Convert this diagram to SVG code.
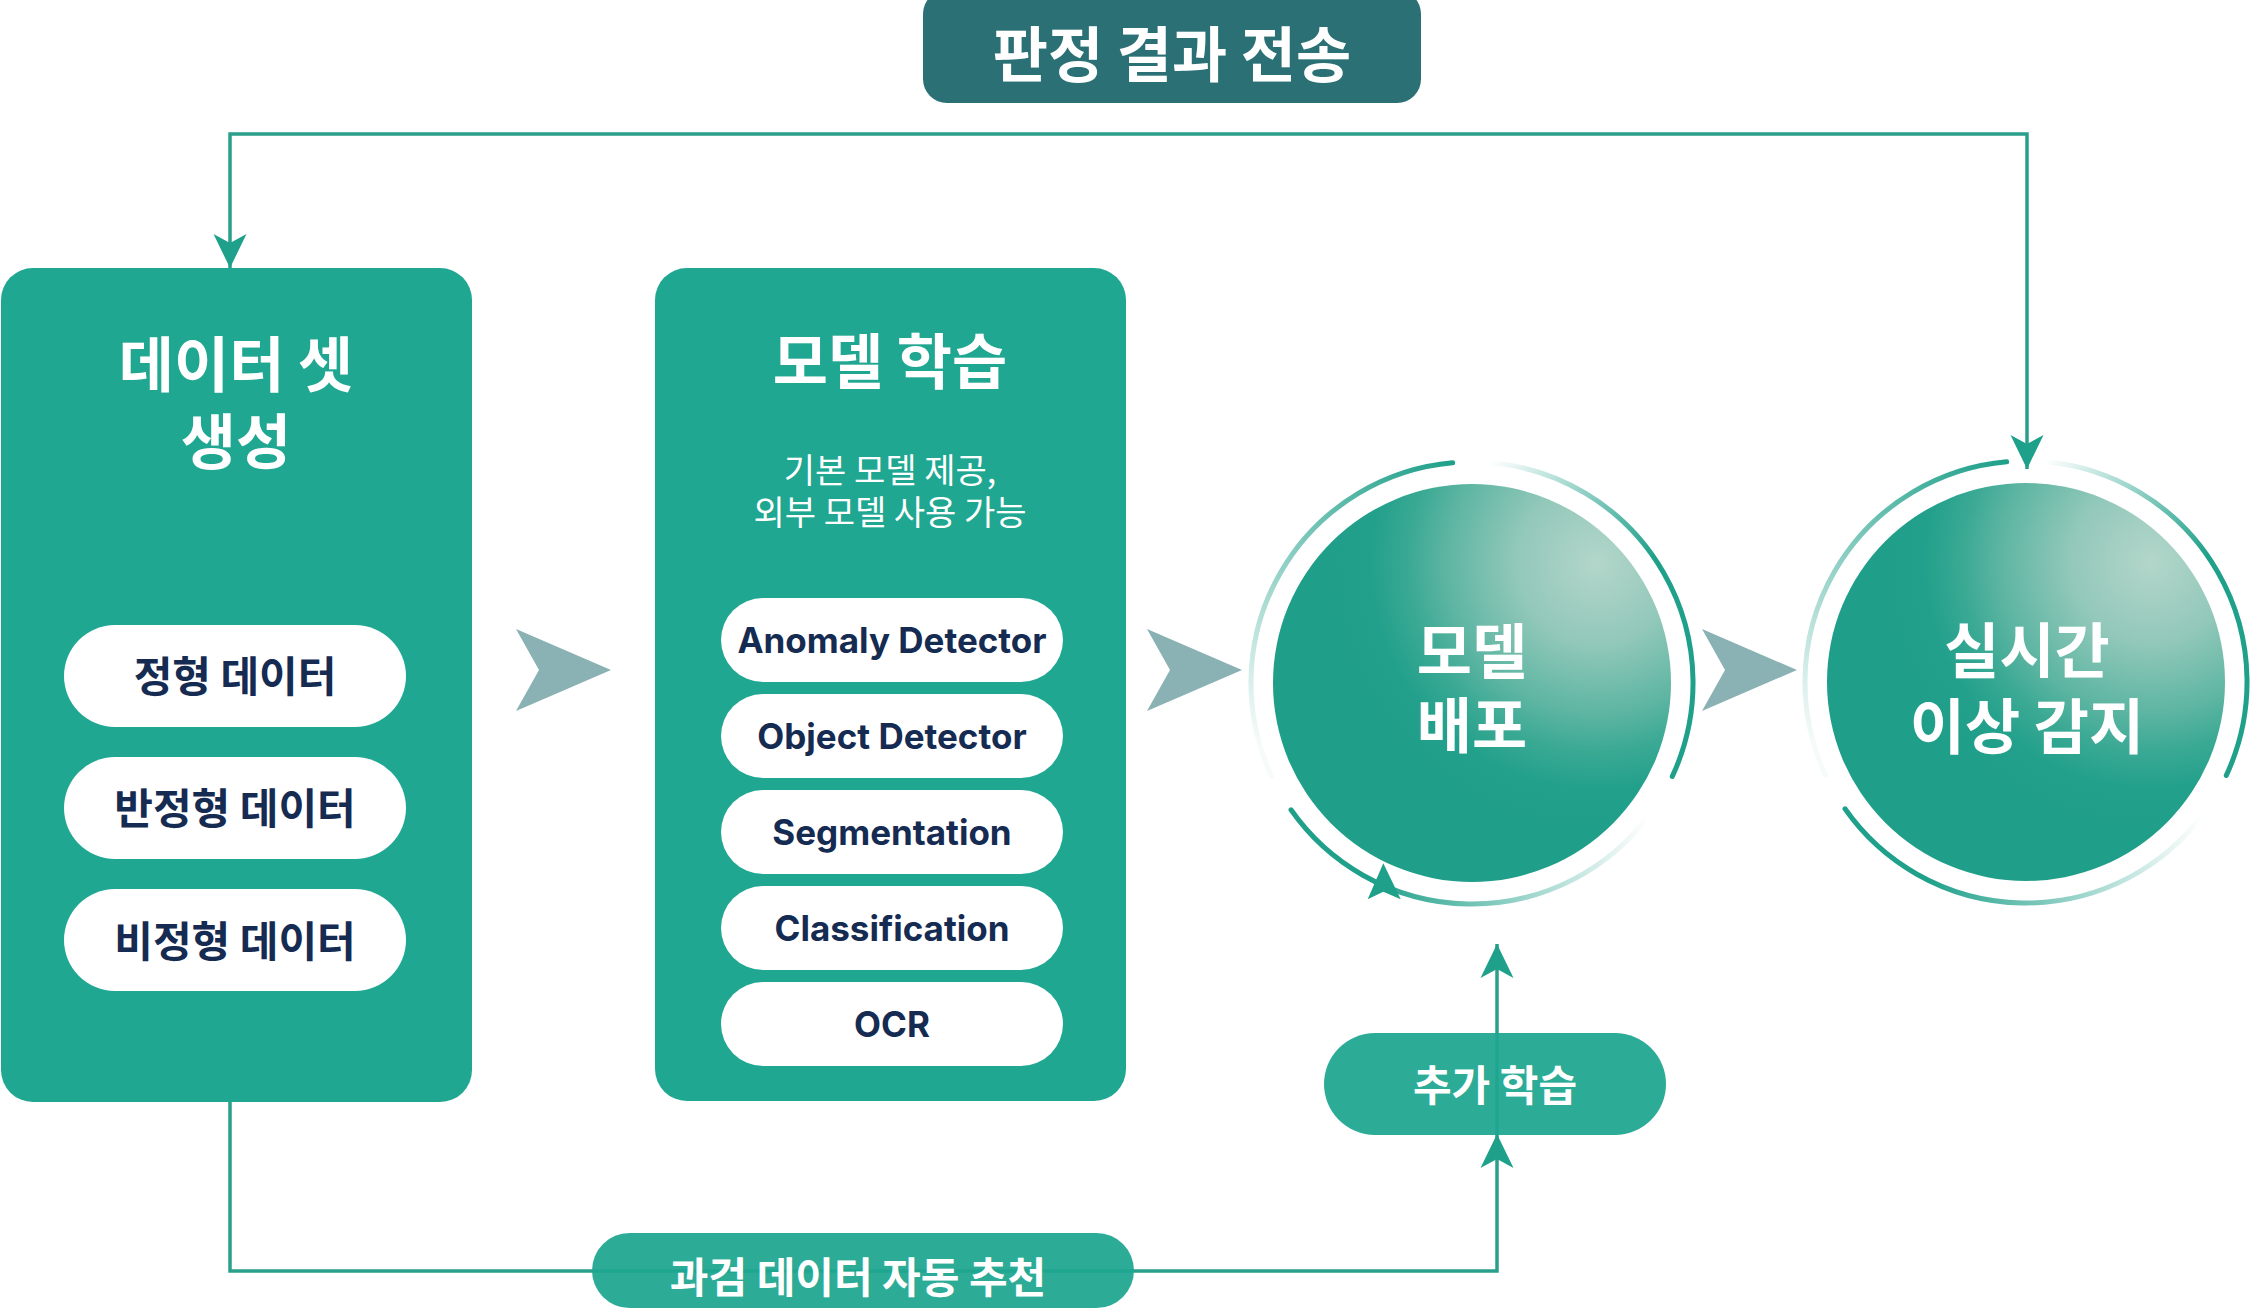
<svg xmlns="http://www.w3.org/2000/svg" width="2250" height="1309" viewBox="0 0 2250 1309">
<style>
.box{fill:#1fa791}
.pill{fill:#ffffff}
.kr{font-family:"Noto Sans CJK KR","Noto Sans",sans-serif;text-anchor:middle;dominant-baseline:central}
.title{font-size:60px;font-weight:700;fill:#ffffff}
.item{font-size:42px;font-weight:700;fill:#152b52}
.sub{font-size:34px;font-weight:400;fill:#ffffff}
.en{font-family:Inter,"Liberation Sans",sans-serif;font-size:35px;font-weight:700;fill:#152b52;text-anchor:middle}
.lbl{font-size:42px;font-weight:700;fill:#ffffff}
.conn{fill:none;stroke:#2a9f8b;stroke-width:3.5}
.chev{fill:#8ab1b3}
.arc{fill:none;stroke-width:5;stroke-linecap:round}
</style>
<defs>
<marker id="ah" viewBox="-36 -18 38 36" refX="0" refY="0" markerWidth="38" markerHeight="36" markerUnits="userSpaceOnUse" orient="auto-start-reverse">
<path d="M0,0 L-34,-16.5 L-25,0 L-34,16.5 Z" fill="#1fa08a"/>
</marker>
<radialGradient id="ball" gradientUnits="userSpaceOnUse" cx="125" cy="-120" r="270">
<stop offset="0" stop-color="#b3d6ca"/>
<stop offset="0.3" stop-color="#92c8ba"/>
<stop offset="0.56" stop-color="#5db5a2"/>
<stop offset="0.7" stop-color="#3aa994"/>
<stop offset="0.84" stop-color="#22a08b"/>
<stop offset="1" stop-color="#1f9e89"/>
</radialGradient>
<linearGradient id="gA" gradientUnits="userSpaceOnUse" x1="-19" y1="-220" x2="-215" y2="60">
<stop offset="0" stop-color="#1fa08a" stop-opacity="1"/>
<stop offset="1" stop-color="#1fa08a" stop-opacity="0.04"/>
</linearGradient>
<linearGradient id="gB" gradientUnits="userSpaceOnUse" x1="19" y1="-220" x2="170" y2="-110">
<stop offset="0" stop-color="#1fa08a" stop-opacity="0"/>
<stop offset="1" stop-color="#1fa08a" stop-opacity="1"/>
</linearGradient>
<linearGradient id="gC" gradientUnits="userSpaceOnUse" x1="-100" y1="0" x2="176" y2="0">
<stop offset="0" stop-color="#1fa08a" stop-opacity="1"/>
<stop offset="1" stop-color="#1fa08a" stop-opacity="0"/>
</linearGradient>
</defs>
<rect width="2250" height="1309" fill="#ffffff"/>

<g id="connectors">
<path class="conn" d="M230,268 L230,134 L2027,134 L2027,469" marker-start="url(#ah)" marker-end="url(#ah)"/>
<path class="conn" d="M230,1102 L230,1271 L1497,1271 L1497,1134" marker-end="url(#ah)"/>
<path class="conn" d="M1497,1134 L1497,944" marker-end="url(#ah)"/>
<path class="chev" d="M516,629 L611,670 L516,711 L539,670 Z"/>
<path class="chev" d="M1147,629 L1242,670 L1147,711 L1170,670 Z"/>
<path class="chev" d="M1702,629 L1797,670 L1702,711 L1725,670 Z"/>
</g>

<g id="label-result">
<rect x="923" y="-10" width="498" height="113" rx="24" fill="#2a7074"/>
<text class="kr title" x="1172" y="50">판정 결과 전송</text>
</g>

<g id="node-dataset">
<rect class="box" x="1" y="268" width="471" height="834" rx="32"/>
<text class="kr title" x="236" y="360"><tspan x="236" y="360">데이터 셋</tspan><tspan x="236" y="437">생성</tspan></text>
<rect class="pill" x="64" y="625" width="342" height="102" rx="51"/>
<text class="kr item" x="235" y="673">정형 데이터</text>
<rect class="pill" x="64" y="757" width="342" height="102" rx="51"/>
<text class="kr item" x="235" y="805">반정형 데이터</text>
<rect class="pill" x="64" y="889" width="342" height="102" rx="51"/>
<text class="kr item" x="235" y="938">비정형 데이터</text>
</g>

<g id="node-training">
<rect class="box" x="655" y="268" width="471" height="833" rx="32"/>
<text class="kr title" x="890" y="357">모델 학습</text>
<text class="kr sub" x="890" y="468"><tspan x="890" y="468">기본 모델 제공,</tspan><tspan x="890" y="510">외부 모델 사용 가능</tspan></text>
<rect class="pill" x="721" y="598" width="342" height="84" rx="42"/>
<text class="en" x="892" y="653">Anomaly Detector</text>
<rect class="pill" x="721" y="694" width="342" height="84" rx="42"/>
<text class="en" x="892" y="749">Object Detector</text>
<rect class="pill" x="721" y="790" width="342" height="84" rx="42"/>
<text class="en" x="892" y="845">Segmentation</text>
<rect class="pill" x="721" y="886" width="342" height="84" rx="42"/>
<text class="en" x="892" y="941">Classification</text>
<rect class="pill" x="721" y="982" width="342" height="84" rx="42"/>
<text class="en" x="892" y="1037">OCR</text>
</g>

<g id="node-deploy" transform="translate(1472,683)">
<circle r="199" fill="url(#ball)"/>
<path class="arc" stroke="url(#gA)" d="M-200.3,93.4 A221,221 0 0 1 -19.3,-220.2"/>
<path class="arc" stroke="url(#gB)" d="M19.3,-220.2 A221,221 0 0 1 200.3,93.4"/>
<path class="arc" stroke="url(#gC)" d="M-181,126.8 A221,221 0 0 0 176.5,133"/>
<path d="M-88.7,180.3 L-104.3,216.3 L-88.7,208.7 L-71.3,216.3 Z" fill="#1fa08a"/>
<text class="kr title" x="0" y="-36"><tspan x="0" y="-36">모델</tspan><tspan x="0" y="38">배포</tspan></text>
</g>

<g id="node-detect" transform="translate(2026,682)">
<circle r="199" fill="url(#ball)"/>
<path class="arc" stroke="url(#gA)" d="M-200.3,93.4 A221,221 0 0 1 -19.3,-220.2"/>
<path class="arc" stroke="url(#gB)" d="M19.3,-220.2 A221,221 0 0 1 200.3,93.4"/>
<path class="arc" stroke="url(#gC)" d="M-181,126.8 A221,221 0 0 0 176.5,133"/>
<text class="kr title" x="1" y="-36"><tspan x="1" y="-36">실시간</tspan><tspan x="1" y="40">이상 감지</tspan></text>
</g>

<g id="label-retrain">
<rect x="1324" y="1033" width="342" height="102" rx="51" fill="#1fa791" fill-opacity="0.94"/>
<text class="kr lbl" x="1495" y="1082">추가 학습</text>
</g>

<g id="label-recommend">
<rect x="592" y="1233" width="542" height="75" rx="37.5" fill="#1fa791" fill-opacity="0.94"/>
<text class="kr lbl" x="858" y="1274">과검 데이터 자동 추천</text>
</g>
</svg>
